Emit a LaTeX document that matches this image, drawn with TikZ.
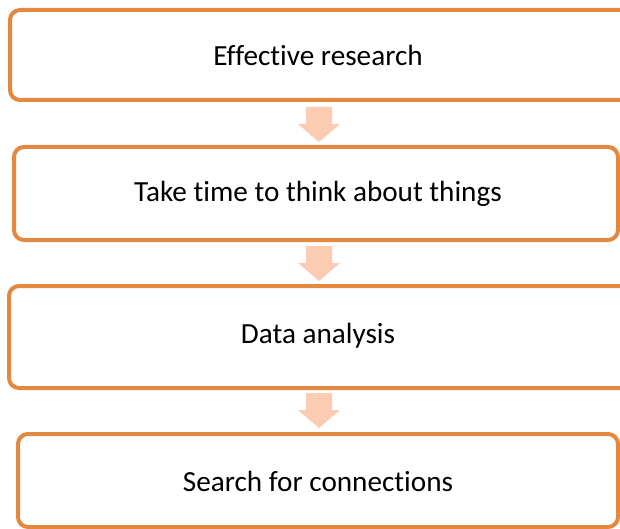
\documentclass[tikz,border=0pt]{standalone}
\usepackage{fontspec}
\setmainfont{Carlito}[Ligatures=NoCommon]
\definecolor{boxline}{RGB}{228,136,64}
\definecolor{arrowfill}{RGB}{251,203,178}
\tikzset{
  stagebox/.style={draw=boxline, line width=4pt, fill=white, rounded corners=10pt,
    rectangle, inner sep=0pt, outer sep=0pt},
  label/.style={font=\fontsize{29.2}{35}\selectfont, text=black},
  downarr/.pic={\fill[arrowfill] (-13,-17) -- (13,-17) -- (13,0) -- (21,0) -- (0,18) -- (-21,0) -- (-13,0) -- cycle;}
}
\begin{document}
\begin{tikzpicture}[x=1pt,y=-1pt]
\useasboundingbox (0,0) rectangle (620,529);
\clip (0,0) rectangle (620,529);
\node[stagebox, minimum width=640pt, minimum height=90pt] (b1) at (330,55) {};
\node[stagebox, minimum width=604pt, minimum height=93pt] (b2) at (316,193.5) {};
\node[stagebox, minimum width=641pt, minimum height=102pt] (b3) at (329.5,337) {};
\node[stagebox, minimum width=600pt, minimum height=93pt] (b4) at (318,480.5) {};
\node[label] (t1) at (318,55) {Effective research};
\node[label] (t2) at (318,194) {Take time to think about things};
\node[label] (t3) at (318,336) {Data analysis};
\node[label] (t4) at (318,481) {Search for connections};
\coordinate (a1) at (319,124);
\coordinate (a2) at (319,263);
\coordinate (a3) at (319,410);
\pic at (a1) {downarr};
\pic at (a2) {downarr};
\pic at (a3) {downarr};
\end{tikzpicture}
\end{document}
